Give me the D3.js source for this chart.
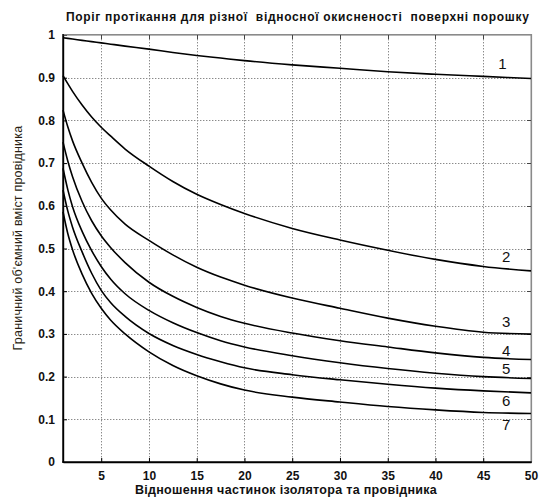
<!DOCTYPE html>
<html>
<head>
<meta charset="utf-8">
<script src="https://cdn.jsdelivr.net/npm/d3@7"></script>
<style>
  html, body { margin: 0; padding: 0; background: #fff; }
  svg { display: block; }
</style>
</head>
<body>
<div id="chart"></div>
<script>
// ---- data ----
const titleText = "Поріг протікання для різної  відносної окисненості  поверхні порошку";
const xLabelText = "Відношення частинок ізолятора та провідника";
const yLabelText = "Граничний об'ємний вміст провідника";

const xValues = [1, 1.5, 2, 3, 4, 5, 6, 7.5, 10, 12.5, 15, 17.5, 20, 25, 30, 35, 40, 45, 50];
const curve1 = [0.9935, 0.992, 0.9905, 0.9875, 0.9845, 0.9815, 0.9785, 0.974, 0.967, 0.959, 0.952, 0.946, 0.940, 0.930, 0.922, 0.914, 0.908, 0.903, 0.898];
const curve2 = [0.905, 0.886, 0.868, 0.836, 0.808, 0.784, 0.763, 0.733, 0.693, 0.657, 0.627, 0.603, 0.582, 0.547, 0.520, 0.496, 0.4745, 0.458, 0.4475];
const curve3 = [0.824, 0.785, 0.752, 0.700, 0.655, 0.618, 0.590, 0.557, 0.519, 0.485, 0.456, 0.433, 0.414, 0.384, 0.360, 0.337, 0.318, 0.304, 0.2994];
const curve4 = [0.749, 0.705, 0.668, 0.610, 0.565, 0.530, 0.502, 0.467, 0.421, 0.388, 0.362, 0.341, 0.325, 0.302, 0.284, 0.2695, 0.2555, 0.245, 0.240];
const curve5 = [0.688, 0.638, 0.598, 0.540, 0.495, 0.458, 0.428, 0.394, 0.355, 0.326, 0.303, 0.284, 0.2695, 0.249, 0.2325, 0.219, 0.208, 0.2, 0.1957];
const curve6 = [0.637, 0.588, 0.550, 0.492, 0.442, 0.402, 0.373, 0.341, 0.301, 0.273, 0.252, 0.235, 0.2206, 0.2045, 0.1925, 0.182, 0.173, 0.1665, 0.162];
const curve7 = [0.586, 0.535, 0.497, 0.440, 0.395, 0.360, 0.332, 0.300, 0.258, 0.226, 0.202, 0.183, 0.1684, 0.152, 0.1405, 0.130, 0.122, 0.116, 0.1137];
const curveNames = ["1", "2", "3", "4", "5", "6", "7"];
const labelX = [47.0, 47.4, 47.4, 47.4, 47.4, 47.4, 47.4];
const labelY = [0.933, 0.482, 0.328, 0.262, 0.219, 0.143, 0.087];

const xTicks = [5, 10, 15, 20, 25, 30, 35, 40, 45, 50];
const yTicks = [0, 0.1, 0.2, 0.3, 0.4, 0.5, 0.6, 0.7, 0.8, 0.9, 1];

// ---- layout ----
const W = 539, H = 497;
const mLeft = 63, mRight = 531, mTop = 35, mBottom = 462;

const svg = d3.select("#chart").append("svg")
  .attr("width", W).attr("height", H)
  .style("font-family", "'Liberation Sans', Arial, sans-serif");

svg.append("rect").attr("width", W).attr("height", H).attr("fill", "#fff");

const x = d3.scaleLinear().domain([1, 50]).range([mLeft, mRight]);
const y = d3.scaleLinear().domain([0, 1]).range([mBottom, mTop]);

// grid: dotted lines built from small rects (1px dots every 3px)
const gridG = svg.append("g").attr("fill", "#8a8a8a");
xTicks.filter(d => d < 50).forEach(t => {
  const gxp = Math.round(x(t));
  gridG.append("g").selectAll("rect").data(d3.range(mTop + 1, mBottom, 3)).join("rect")
    .attr("x", gxp).attr("y", d => d).attr("width", 1).attr("height", 1.4);
});
yTicks.filter(d => d > 0 && d < 1).forEach(t => {
  const gyp = Math.round(y(t));
  gridG.append("g").selectAll("rect").data(d3.range(mLeft + 2, mRight, 3)).join("rect")
    .attr("x", d => d).attr("y", gyp).attr("width", 1.4).attr("height", 1);
});

// frame: top and right borders (grey), left and bottom axes (black) as filled rects
const frame = svg.append("g");
frame.append("rect").attr("x", mLeft).attr("y", mTop - 1).attr("width", mRight - mLeft + 1).attr("height", 1.6).attr("fill", "#8a8a8a");
frame.append("rect").attr("x", mRight - 0.5).attr("y", mTop - 1).attr("width", 1.6).attr("height", mBottom - mTop + 1).attr("fill", "#8a8a8a");
frame.append("g").selectAll("rect").data(xTicks.filter(d => d < 50)).join("rect")
  .attr("x", d => Math.round(x(d))).attr("y", mTop).attr("width", 1).attr("height", 4).attr("fill", "#444");
frame.append("g").selectAll("rect").data(yTicks.filter(d => d > 0 && d < 1)).join("rect")
  .attr("x", mRight - 4).attr("y", d => Math.round(y(d))).attr("width", 4).attr("height", 1).attr("fill", "#444");

// axes (d3 axis for ticks & labels)
const xAxis = d3.axisBottom(x).tickValues(xTicks).tickSizeInner(-4).tickSizeOuter(0).tickPadding(9)
  .tickFormat(d3.format("d"));
const gx = svg.append("g").attr("transform", `translate(0,${mBottom})`).call(xAxis);
gx.select(".domain").attr("stroke", "#000").attr("stroke-width", 1.4);
gx.selectAll(".tick line").attr("stroke", "#000");
gx.selectAll(".tick text").attr("font-size", 12).attr("font-weight", "bold").attr("fill", "#111")
  .attr("font-family", "'Liberation Sans', Arial, sans-serif");

const yAxis = d3.axisLeft(y).tickValues(yTicks).tickSizeInner(-4).tickSizeOuter(0).tickPadding(8)
  .tickFormat(d => d === 0 || d === 1 ? d3.format("d")(d) : d3.format(".1f")(d));
const gy = svg.append("g").attr("transform", `translate(${mLeft},0)`).call(yAxis);
gy.select(".domain").attr("stroke", "#000").attr("stroke-width", 1.4);
gy.selectAll(".tick line").attr("stroke", "#000");
gy.selectAll(".tick text").attr("font-size", 12).attr("font-weight", "bold").attr("fill", "#111")
  .attr("font-family", "'Liberation Sans', Arial, sans-serif");

// solid axis bars (rects) to be sure they render
frame.append("rect").attr("x", mLeft - 0.7).attr("y", mTop - 1).attr("width", 1.5).attr("height", mBottom - mTop + 1.7).attr("fill", "#000");
frame.append("rect").attr("x", mLeft - 0.7).attr("y", mBottom - 0.7).attr("width", mRight - mLeft + 1.5).attr("height", 1.5).attr("fill", "#000");
frame.raise();

// curves
const allCurves = [curve1, curve2, curve3, curve4, curve5, curve6, curve7];
const line = d3.line()
  .x((d, i) => x(xValues[i]))
  .y(d => y(d))
  .curve(d3.curveMonotoneX);

svg.append("g").selectAll("path").data(allCurves).join("path")
  .attr("d", d => line(d))
  .attr("fill", "none").attr("stroke", "#000").attr("stroke-width", 1.6);

// curve labels
svg.append("g").selectAll("text").data(curveNames).join("text")
  .attr("x", (d, i) => x(labelX[i]))
  .attr("y", (d, i) => y(labelY[i]))
  .attr("dy", "0.36em")
  .attr("text-anchor", "middle")
  .attr("font-size", 15)
  .attr("fill", "#111")
  .text(d => d);

// title
svg.append("text").attr("x", 66).attr("y", 21)
  .attr("font-size", 12).attr("font-weight", "bold").attr("fill", "#111")
  .attr("letter-spacing", 0.68)
  .style("white-space", "pre")
  .text(titleText);

// x label
svg.append("text").attr("x", 286).attr("y", 494)
  .attr("text-anchor", "middle").attr("font-size", 12.5).attr("font-weight", "bold").attr("fill", "#111")
  .attr("letter-spacing", 0.3)
  .text(xLabelText);

// y label
svg.append("text").attr("transform", `translate(22,238) rotate(-90)`)
  .attr("text-anchor", "middle").attr("font-size", 12.5).attr("fill", "#2a1f14")
  .attr("letter-spacing", 0.2)
  .text(yLabelText);
</script>
</body>
</html>
